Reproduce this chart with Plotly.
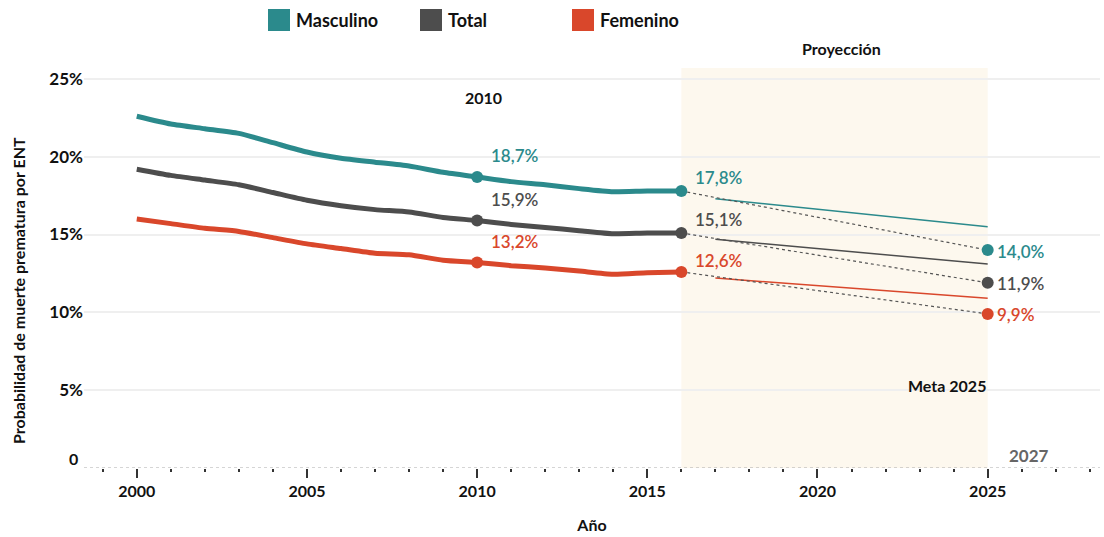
import plotly.graph_objects as go

years = list(range(2000, 2017))
masculino = [22.6, 22.1, 21.8, 21.5, 20.9, 20.3, 19.9, 19.65, 19.4, 19.0, 18.7,
             18.4, 18.2, 17.95, 17.75, 17.8, 17.8]
total = [19.2, 18.8, 18.5, 18.2, 17.7, 17.2, 16.85, 16.6, 16.45, 16.1, 15.9,
         15.65, 15.45, 15.25, 15.05, 15.1, 15.1]
femenino = [16.0, 15.7, 15.4, 15.2, 14.8, 14.4, 14.1, 13.8, 13.7, 13.35, 13.2,
            13.0, 12.85, 12.65, 12.45, 12.55, 12.6]

proj_years = [2017, 2025]
proj_masculino = [17.3, 15.5]
proj_total = [14.7, 13.1]
proj_femenino = [12.2, 10.9]

meta_year = 2025
meta = {"Masculino": 14.0, "Total": 11.9, "Femenino": 9.9}

series = [
    ("Masculino", masculino, proj_masculino, "#2b8a8c"),
    ("Total", total, proj_total, "#4d4d4d"),
    ("Femenino", femenino, proj_femenino, "#d9472b"),
]

FONT = "Lato"
# plot area in pixels: left 84, top 68, width 1016, height 400
L, T, W, H = 84, 68, 1016, 400


def pct(v):
    return f"{v:.1f}".replace(".", ",") + "%"


def px_x(px):
    return (px - L) / W


def px_y(py):
    return (T + H - py) / H


fig = go.Figure()

# zona de proyeccion
fig.add_shape(type="rect", xref="x", yref="paper", x0=2016, x1=2025, y0=0, y1=1,
              fillcolor="#fdf8ee", line_width=0, layer="below")

for name, vals, proj, color in series:
    fig.add_trace(go.Scatter(x=years, y=vals, mode="lines",
                             line=dict(color=color, width=5, shape="spline", smoothing=0.6),
                             hoverinfo="skip"))
    fig.add_trace(go.Scatter(x=proj_years, y=proj, mode="lines",
                             line=dict(color=color, width=1.5), hoverinfo="skip"))
    fig.add_trace(go.Scatter(x=[2016, meta_year], y=[vals[-1], meta[name]], mode="lines",
                             line=dict(color="#555555", width=1.2, dash="dot"),
                             hoverinfo="skip"))
    fig.add_trace(go.Scatter(x=[2010, 2016, meta_year],
                             y=[vals[years.index(2010)], vals[-1], meta[name]],
                             mode="markers", marker=dict(color=color, size=12),
                             hoverinfo="skip"))

# etiquetas de valores
offsets_2016 = {"Masculino": 13, "Total": 13, "Femenino": 11}
for name, vals, proj, color in series:
    v10 = vals[years.index(2010)]
    lab = dict(family=FONT, size=17, color=color, weight=600)
    fig.add_annotation(x=2010, y=v10, text=pct(v10), showarrow=False, xshift=37,
                       yshift=21, font=lab)
    fig.add_annotation(x=2016, y=vals[-1], text=pct(vals[-1]), showarrow=False, xshift=37,
                       yshift=offsets_2016[name], font=lab)
    fig.add_annotation(x=meta_year, y=meta[name], text=pct(meta[name]), showarrow=False,
                       xanchor="left", xshift=7, yshift=-1, font=lab)

bold = dict(family=FONT, size=16, color="#111111", weight=700)
fig.add_annotation(x=2010.2, y=23.8, text="2010", showarrow=False, font=bold)
fig.add_annotation(x=2020.7, y=px_y(49), yref="paper", yanchor="middle",
                   text="Proyección", showarrow=False, font=bold)
fig.add_annotation(x=2023.8, y=5.3, text="Meta 2025", showarrow=False, font=bold)
fig.add_annotation(x=2026.2, y=0.8, text="2027", showarrow=False,
                   font=dict(family=FONT, size=17, color="#666666", weight=700))
fig.add_annotation(x=0, xref="paper", xanchor="right", xshift=-4, y=0, yshift=10,
                   text="0", showarrow=False,
                   font=dict(family=FONT, size=16, color="#111111", weight=700))
fig.add_annotation(x=px_x(18), xref="paper", y=px_y(291), yref="paper",
                   text="Probabilidad de muerte prematura por ENT", textangle=-90,
                   showarrow=False, xanchor="center", yanchor="middle",
                   font=dict(family=FONT, size=16, color="#111111", weight=700))

# eje x punteado
fig.add_shape(type="line", xref="paper", yref="y", x0=0, x1=1, y0=0, y1=0,
              line=dict(color="#aaaaaa", width=1, dash="dot"))

# leyenda
legend_x = [268, 420, 572]
for (name, _, _, color), lx in zip(series, legend_x):
    fig.add_shape(type="rect", xref="paper", yref="paper",
                  x0=px_x(lx), x1=px_x(lx + 22), y0=px_y(31), y1=px_y(9),
                  fillcolor=color, line_width=0)
    fig.add_annotation(x=px_x(lx + 22), xref="paper", y=px_y(20), yref="paper",
                       xanchor="left", yanchor="middle", xshift=4, text=name,
                       showarrow=False,
                       font=dict(family=FONT, size=18, color="#111111", weight=700))

fig.update_layout(
    width=1104, height=537,
    margin=dict(l=L, r=1104 - L - W, t=T, b=537 - T - H, autoexpand=False),
    plot_bgcolor="white", paper_bgcolor="white",
    font=dict(family=FONT, size=15, color="#111111"),
    showlegend=False,
    xaxis=dict(
        range=[1998.45, 2028.3],
        tickvals=[2000, 2005, 2010, 2015, 2020, 2025],
        ticks="outside", ticklen=9, tickcolor="#333333", tickwidth=1.5,
        minor=dict(dtick=1, tick0=2000, ticks="outside", ticklen=3, tickcolor="#333333"),
        showgrid=False, zeroline=False, showline=False,
        tickfont=dict(family=FONT, size=16, weight=700),
        title=dict(text="Año", font=dict(family=FONT, size=16, weight=700), standoff=20),
    ),
    yaxis=dict(
        range=[0, 25.7],
        tickvals=[5, 10, 15, 20, 25],
        ticktext=["5%", "10%", "15%", "20%", "25%"],
        showgrid=True, gridcolor="#efefef", gridwidth=2,
        zeroline=False, showline=False, ticks="",
        tickfont=dict(family=FONT, size=17, weight=700),
    ),
)

fig.write_html("out.html", config={"displayModeBar": False},
               post_script="document.body.style.margin = '0';")
